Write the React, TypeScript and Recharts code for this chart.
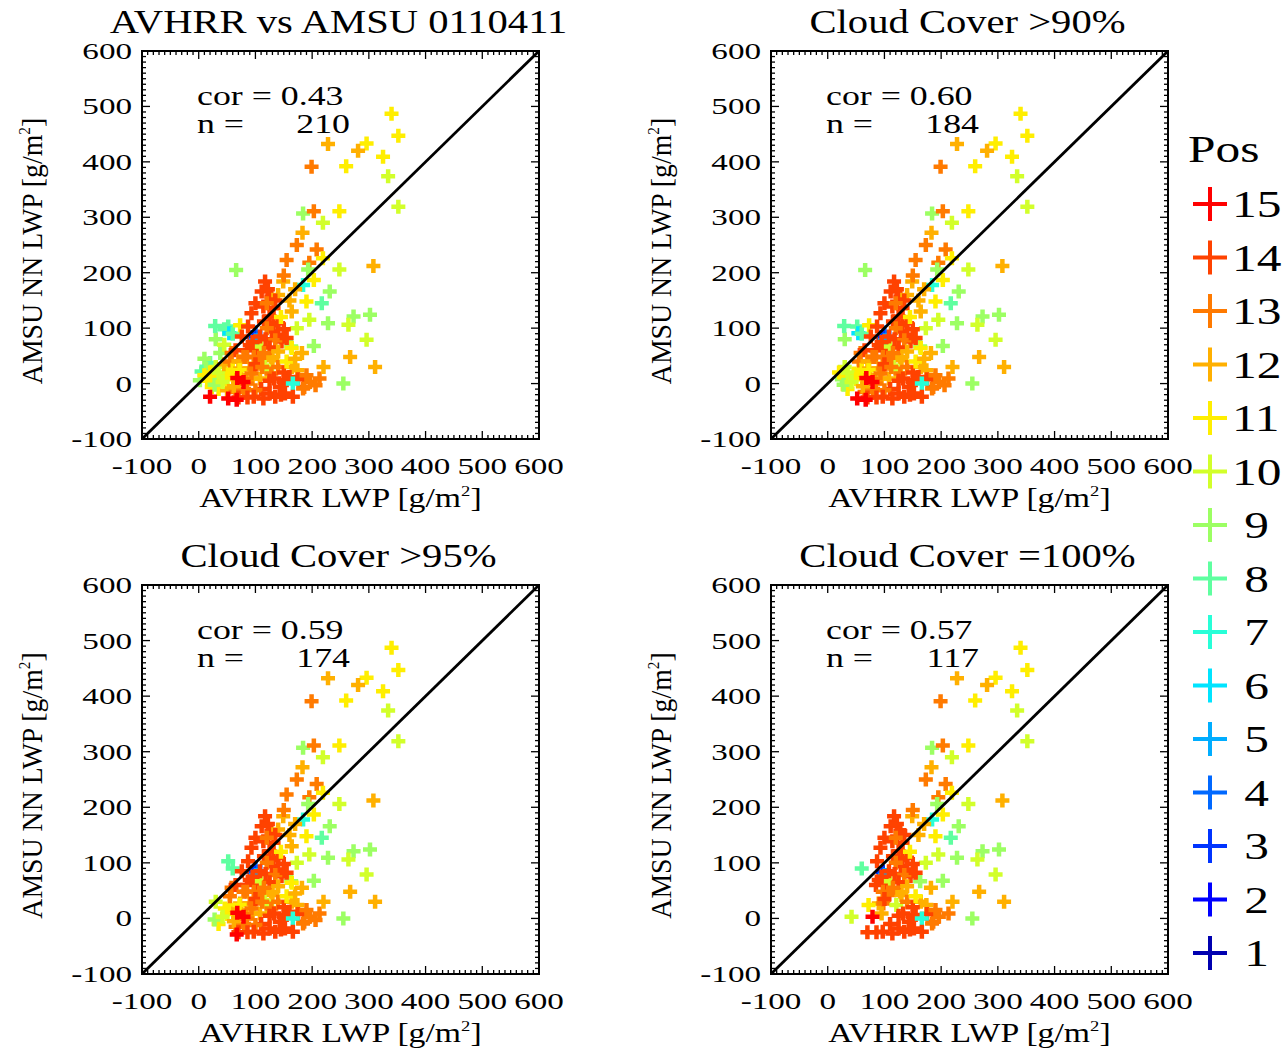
import React from 'react';
import { ScatterChart, Scatter, XAxis, YAxis, ReferenceArea } from 'recharts';

// position index -> colour (IDL rainbow style)
const POS_LEVELS = [15, 14, 13, 12, 11, 10, 9, 8, 7, 6, 5, 4, 3, 2, 1];
const POS_COLORS: Record<number, string> = {
  15: '#ff0000',
  14: '#ff4200',
  13: '#ff7a00',
  12: '#ffb000',
  11: '#ffee00',
  10: '#d2ff2a',
  9: '#9cff63',
  8: '#5fffa0',
  7: '#28ffd8',
  6: '#00e4ff',
  5: '#00adff',
  4: '#0068ff',
  3: '#0034ff',
  2: '#0000ff',
  1: '#0000b0',
};

const AXIS_LABELS = [-100, 0, 100, 200, 300, 400, 500, 600];
const ONE_TO_ONE = [{ x: -100, y: -100 }, { x: 600, y: 600 }];

const TITLES = ['AVHRR vs AMSU 0110411', 'Cloud Cover >90%', 'Cloud Cover >95%', 'Cloud Cover =100%'];
const COR_VALUES = ['0.43', '0.60', '0.59', '0.57'];
const N_VALUES = ['210', '184', '174', '117'];
const COVER_FILTER = ['all', '>90', '>95', '=100'];

// [AVHRR LWP, AMSU NN LWP, pos, cloud cover %]
const POINTS: [number, number, number, number][] = [
  // lower-left cluster
  [38, 55, 9, 85], [20, 37, 8, 85], [13, 27, 9, 85], [2, 6, 9, 85], [10, 45, 9, 85], [5, 22, 8, 85],
  [30, 80, 9, 92], [45, 70, 10, 85], [25, 8, 9, 92], [30, 30, 10, 97], [20, 20, 11, 92], [10, 15, 11, 85],
  [31, 12, 11, 92], [46, 18, 11, 97], [40, 0, 11, 85], [55, 24, 11, 97], [23, -6, 11, 85], [15, 5, 11, 85],
  [35, 20, 10, 92], [61, 9, 12, 97], [45, 35, 12, 85], [55, 40, 13, 97], [60, 25, 11, 92], [35, -10, 11, 97],
  [50, -12, 12, 85], [65, -15, 13, 97], [75, 15, 12, 97], [58, 55, 13, 97], [65, 60, 14, 97], [70, 40, 12, 92],
  [80, -10, 13, 97], [50, 8, 11, 97], [28, -2, 9, 97], [42, 3, 10, 100], [62, -5, 12, 97],
  // lower blob
  [85, 60, 14, 100], [103, 63, 14, 100], [97, 48, 13, 100], [108, 42, 13, 100], [128, 48, 12, 100],
  [130, 42, 12, 100], [90, 69, 14, 100], [85, 48, 13, 97], [79, 48, 13, 97], [73, 27, 12, 97], [90, 27, 12, 100],
  [98, 27, 13, 100], [121, 24, 10, 100], [116, 30, 10, 97], [72, 24, 11, 100], [95, 9, 12, 100], [108, 9, 12, 97],
  [128, 18, 13, 97], [93, 18, 13, 97], [133, 9, 14, 100], [150, 3, 14, 100], [155, 6, 14, 100], [143, -6, 14, 100],
  [164, 30, 12, 100], [174, 24, 12, 100], [184, -9, 13, 100], [196, 3, 13, 100], [213, 9, 13, 100],
  [186, -6, 13, 100], [206, -3, 13, 97], [100, 35, 14, 100], [112, 30, 13, 97], [140, 30, 13, 100],
  [150, 20, 14, 100], [125, 5, 14, 100], [110, -10, 14, 100], [160, 12, 14, 97], [175, 8, 14, 100],
  [190, 15, 13, 100], [145, -20, 14, 100], [125, -18, 14, 100], [100, -12, 13, 97], [85, 0, 13, 97],
  [155, 40, 11, 100], [170, 45, 12, 97], [166, 0, 7, 100],
  // bottom row
  [70, -25, 14, 100], [86, -25, 14, 100], [97, -24, 14, 100], [114, -27, 14, 100], [135, -24, 14, 100],
  [152, -18, 14, 100], [166, -24, 14, 100], [20, -24, 15, 85], [52, -27, 15, 92], [67, -29, 15, 97],
  [79, 3, 15, 100], [68, 10, 15, 97],
  // left cyan group
  [29, 104, 8, 92], [52, 103, 8, 97], [45, 98, 8, 85], [54, 91, 6, 92], [60, 90, 8, 100], [73, 105, 11, 92],
  [100, 92, 4, 97], [97, 84, 3, 100], [101, 78, 5, 100],
  // middle
  [117, 184, 14, 100], [149, 184, 12, 100], [184, 178, 7, 100], [203, 187, 11, 100], [111, 166, 14, 100],
  [128, 157, 14, 100], [231, 166, 9, 100], [190, 148, 11, 100], [217, 145, 8, 100], [100, 145, 14, 100],
  [114, 139, 14, 100], [132, 136, 14, 100], [140, 160, 12, 97], [164, 130, 12, 97], [93, 127, 14, 100],
  [125, 121, 14, 100], [195, 115, 10, 100], [228, 109, 9, 100], [273, 121, 9, 100], [302, 124, 9, 100],
  [264, 106, 10, 100], [173, 100, 10, 100], [140, 109, 14, 100], [87, 103, 14, 100], [129, 94, 14, 100],
  [140, 88, 14, 100], [146, 76, 14, 100], [76, 85, 14, 97], [296, 79, 10, 100], [203, 68, 9, 100],
  [163, 67, 9, 100], [110, 67, 10, 100], [164, 64, 11, 97], [182, 55, 12, 100], [267, 48, 12, 100],
  [311, 30, 12, 100], [220, 30, 12, 100], [255, 0, 9, 100],
  [122, 170, 14, 100], [135, 150, 14, 100], [120, 145, 13, 100], [115, 112, 14, 100],
  [132, 105, 14, 100], [150, 98, 14, 100], [120, 100, 13, 100], [108, 85, 14, 100], [118, 80, 14, 100],
  [135, 78, 13, 100], [155, 82, 14, 100], [95, 75, 14, 100], [125, 65, 14, 100], [115, 55, 13, 100],
  [140, 58, 12, 100], [145, 120, 11, 100], [160, 150, 12, 100], [170, 170, 12, 100], [150, 195, 13, 100],
  // upper scatter
  [340, 487, 11, 100], [352, 447, 11, 100], [228, 432, 12, 100], [296, 433, 11, 100], [281, 420, 12, 100],
  [325, 409, 11, 100], [199, 391, 13, 100], [260, 392, 11, 100], [334, 374, 10, 100], [352, 319, 10, 100],
  [184, 307, 9, 100], [203, 311, 13, 100], [248, 311, 11, 100], [219, 290, 10, 100], [183, 272, 12, 100],
  [173, 250, 13, 100], [208, 242, 13, 100], [155, 223, 13, 97], [195, 218, 13, 100], [219, 226, 11, 100],
  [193, 206, 9, 100], [248, 206, 10, 100], [308, 212, 12, 100], [66, 205, 9, 92],
];

// layout (page pixels)
const PANEL_POS = [
  { left: 142, top: 51, h: 388 },
  { left: 771, top: 51, h: 388 },
  { left: 142, top: 585, h: 389 },
  { left: 771, top: 585, h: 389 },
];
const PW = 397;
const MT = 51;
const YW = 142;
const MR = 40;
const FONT = '"Liberation Serif", "Times New Roman", serif';

const minorTicks: number[] = [];
for (let v = -100; v <= 600; v += 10) minorTicks.push(v);

const keep = (mode: string, cc: number) =>
  mode === 'all' ? true : mode === '>90' ? cc > 90 : mode === '>95' ? cc > 95 : cc >= 100;

const plusPath = (cx: number, cy: number, r: number) =>
  `M${cx - r},${cy}H${cx + r}M${cx},${cy - r}V${cy + r}`;

const PlusShape = (props: any) => {
  const { cx, cy, payload } = props;
  if (cx == null || cy == null) return <g />;
  return <path d={plusPath(cx, cy, 7)} stroke={POS_COLORS[payload.pos]} strokeWidth={4.5} fill="none" />;
};

const NoShape = () => <g />;

function Panel({ idx }: { idx: number }) {
  const pos = PANEL_POS[idx];
  const ph = pos.h;
  const bottom = MT + ph;
  const right = YW + PW;
  const width = YW + PW + MR;
  const height = MT + ph + 70;
  const data = POINTS.filter((p) => keep(COVER_FILTER[idx], p[3])).map(([x, y, p]) => ({ x, y, pos: p }));

  const XTick = (props: any) => {
    const { x, payload } = props;
    const v = payload.value;
    const major = AXIS_LABELS.includes(v);
    const len = major ? 8 : 4;
    return (
      <g>
        <line x1={x} x2={x} y1={bottom} y2={bottom - len} stroke="#000" strokeWidth={1.3} />
        <line x1={x} x2={x} y1={MT} y2={MT + len} stroke="#000" strokeWidth={1.3} />
        {major && (
          <text
            transform={`translate(${x},${bottom + 35}) scale(1.38,1)`}
            textAnchor="middle"
            fontFamily={FONT}
            fontSize={24}
            fill="#000"
          >
            {v}
          </text>
        )}
      </g>
    );
  };

  const YTick = (props: any) => {
    const { y, payload } = props;
    const v = payload.value;
    const major = AXIS_LABELS.includes(v);
    const len = major ? 8 : 4;
    return (
      <g>
        <line x1={YW} x2={YW + len} y1={y} y2={y} stroke="#000" strokeWidth={1.3} />
        <line x1={right} x2={right - len} y1={y} y2={y} stroke="#000" strokeWidth={1.3} />
        {major && (
          <text
            transform={`translate(${YW - 10},${y + 8}) scale(1.38,1)`}
            textAnchor="end"
            fontFamily={FONT}
            fontSize={24}
            fill="#000"
          >
            {v}
          </text>
        )}
      </g>
    );
  };

  return (
    <div style={{ position: 'absolute', left: pos.left - YW, top: pos.top - MT }}>
      <ScatterChart width={width} height={height} margin={{ top: MT, right: MR, bottom: 10, left: 0 }}>
        <XAxis
          type="number"
          dataKey="x"
          domain={[-100, 600]}
          ticks={minorTicks}
          interval={0}
          tick={XTick}
          tickLine={false}
          axisLine={false}
          height={60}
          allowDataOverflow
        />
        <YAxis
          type="number"
          dataKey="y"
          domain={[-100, 600]}
          ticks={minorTicks}
          interval={0}
          tick={YTick}
          tickLine={false}
          axisLine={false}
          width={YW}
          allowDataOverflow
        />
        <ReferenceArea x1={-100} x2={600} y1={-100} y2={600} fill="none" stroke="#000" strokeWidth={2} fillOpacity={0} />
        <Scatter data={data} shape={PlusShape} isAnimationActive={false} />
        {/* 1:1 line drawn after the points so it sits on top */}
        <Scatter
          data={ONE_TO_ONE}
          line={{ stroke: '#000', strokeWidth: 2.8 }}
          shape={NoShape}
          isAnimationActive={false}
        />
      </ScatterChart>
    </div>
  );
}

const Unit = ({ big }: { big: number }) => (
  <>
    [g/m
    <tspan dy={-big * 0.4} fontSize={big * 0.55}>2</tspan>
    <tspan dy={big * 0.4}>]</tspan>
  </>
);

function Overlay() {
  return (
    <svg
      width={1287}
      height={1050}
      style={{ position: 'absolute', left: 0, top: 0, pointerEvents: 'none' }}
      fontFamily={FONT}
      fill="#000"
    >
      {PANEL_POS.map((p, i) => {
        const cx = p.left + PW / 2;
        const sx = 1.28;
        return (
          <g key={i}>
            <text transform={`translate(${cx - 2},${p.top - 18}) scale(1.23,1)`} textAnchor="middle" fontSize={33}>
              {TITLES[i]}
            </text>
            <text transform={`translate(${cx},${p.top + p.h + 68}) scale(1.25,1)`} textAnchor="middle" fontSize={27}>
              AVHRR LWP <Unit big={27} />
            </text>
            <text
              transform={`translate(${p.left - 100},${p.top + p.h / 2 + 6}) rotate(-90) scale(1.07,1.15)`}
              textAnchor="middle"
              fontSize={26}
            >
              AMSU NN LWP <Unit big={26} />
            </text>
            <text transform={`translate(${p.left + 55},${p.top + 54}) scale(${sx},1)`} fontSize={28}>
              {'cor = ' + COR_VALUES[i]}
            </text>
            <text transform={`translate(${p.left + 55},${p.top + 82}) scale(${sx},1)`} fontSize={28}>
              n =
              <tspan x={(208 - 55) / sx} textAnchor="end">
                {N_VALUES[i]}
              </tspan>
            </text>
          </g>
        );
      })}
      <text transform="translate(1188,162) scale(1.3,1)" fontSize={38}>
        Pos
      </text>
      {POS_LEVELS.map((lv, i) => {
        const cy = 204 + i * 53.5;
        return (
          <g key={lv}>
            <path d={plusPath(1210, cy, 17)} stroke={POS_COLORS[lv]} strokeWidth={4} fill="none" />
            <text
              transform={`translate(1232,${cy + 13}) scale(1.3,1)`}
              fontSize={38}
              style={{ whiteSpace: 'pre' }}
            >
              {lv < 10 ? ' ' + lv : String(lv)}
            </text>
          </g>
        );
      })}
    </svg>
  );
}

export default function App() {
  return (
    <div style={{ position: 'absolute', left: 0, top: 0, width: 1287, height: 1050, background: '#fff' }}>
      {[0, 1, 2, 3].map((i) => (
        <Panel key={i} idx={i} />
      ))}
      <Overlay />
    </div>
  );
}
